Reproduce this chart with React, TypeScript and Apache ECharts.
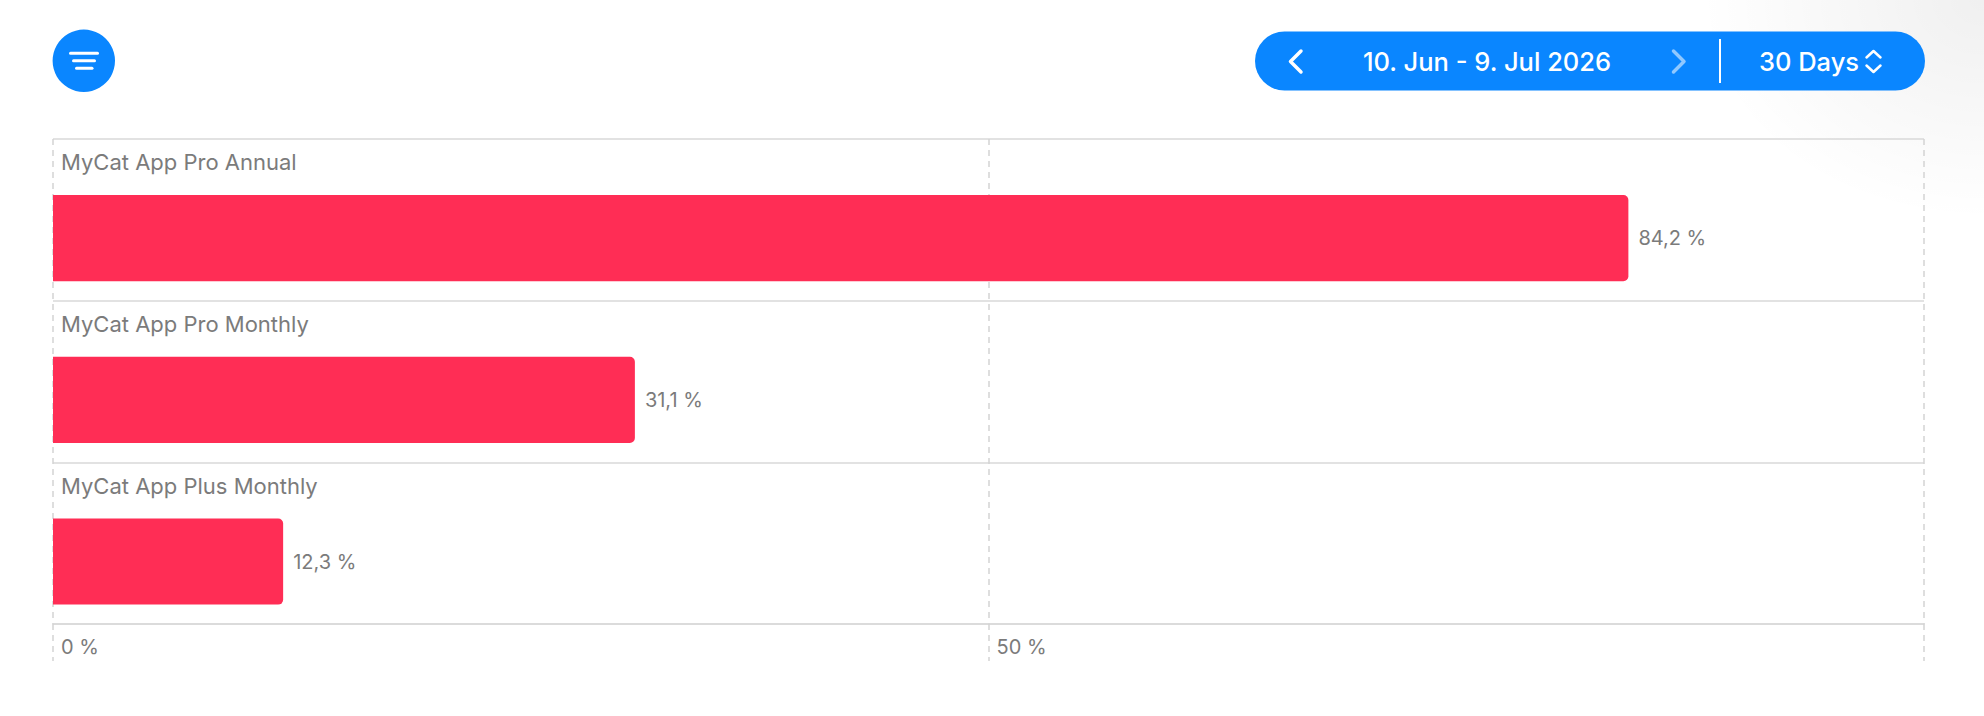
import React, { useEffect, useRef } from "react";
import * as echarts from "echarts";

const categories = ["MyCat App Pro Annual", "MyCat App Pro Monthly", "MyCat App Plus Monthly"];
const values = [84.2, 31.1, 12.3];
const xTicks = [0, 50, 100];
const dateRangeLabel = "10. Jun - 9. Jul 2026";
const periodLabel = "30 Days";

const FONT = "Inter, 'Noto Sans', sans-serif";
const GRAY_TEXT = "#7b7b7b";
const GRID_LINE = "#d9d9d9";
const BAR = "#FF2D55";
const BLUE = "#0A86FF";

function fmtPct(v: number): string {
  return v.toFixed(1).replace(".", ",") + " %";
}

export default function App() {
  const ref = useRef<HTMLDivElement>(null);

  useEffect(() => {
    document.body.style.margin = "0";
    if (!ref.current) return;
    const chart = echarts.init(ref.current, undefined, { renderer: "svg" });

    const option: any = {
      animation: false,
      backgroundColor: "#ffffff",
      grid: { left: 53, right: 60, top: 139, bottom: 92, containLabel: false },
      xAxis: {
        type: "value",
        min: xTicks[0],
        max: xTicks[xTicks.length - 1],
        interval: xTicks[1] - xTicks[0],
        axisLine: { show: true, lineStyle: { color: GRID_LINE, width: 1.5 } },
        axisTick: { show: true, length: 37, lineStyle: { color: "#d4d4d4", width: 1.5, type: [6, 5] } },
        splitLine: { show: true, lineStyle: { color: "#d4d4d4", width: 1.5, type: [6, 5] } },
        axisLabel: {
          show: true,
          color: GRAY_TEXT,
          fontFamily: FONT,
          fontSize: 20,
          align: "left",
          verticalAlign: "middle",
          margin: 23,
          padding: [0, 0, 0, 8],
          formatter: (v: number) => (v === xTicks[xTicks.length - 1] ? "" : v + " %"),
        },
      },
      yAxis: {
        type: "category",
        data: categories,
        inverse: true,
        boundaryGap: true,
        axisLine: { show: false },
        axisTick: { show: false },
        axisLabel: { show: false },
        splitLine: { show: true, lineStyle: { color: GRID_LINE, width: 1.5, type: "solid" } },
      },
      series: [
        {
          type: "custom",
          encode: { x: 0, y: 1 },
          data: values.map((v, i) => [v, i]),
          clip: false,
          renderItem: (params: any, api: any) => {
            const v = api.value(0);
            const idx = api.value(1);
            const end = api.coord([v, idx]);
            const start = api.coord([0, idx]);
            const band = api.size([0, 1])[1];
            const top = end[1] - band / 2;
            const barTop = top + band * 0.347;
            const barH = band * 0.533;
            return {
              type: "group",
              children: [
                {
                  type: "rect",
                  shape: { x: start[0], y: barTop, width: end[0] - start[0], height: barH, r: [0, 5, 5, 0] },
                  style: { fill: BAR },
                },
                {
                  type: "text",
                  x: end[0] + 10,
                  y: barTop + barH / 2,
                  style: {
                    text: fmtPct(v),
                    fill: GRAY_TEXT,
                    font: `400 20px ${FONT}`,
                    textAlign: "left",
                    textVerticalAlign: "middle",
                  },
                },
                {
                  type: "text",
                  x: start[0] + 8,
                  y: top + band * 0.145,
                  style: {
                    text: categories[idx],
                    fill: GRAY_TEXT,
                    font: `400 22px ${FONT}`,
                    textAlign: "left",
                    textVerticalAlign: "middle",
                  },
                },
              ],
            };
          },
        },
      ],
      graphic: [
        {
          type: "rect",
          z: -1,
          shape: { x: 1700, y: 0, width: 284, height: 220 },
          style: {
            fill: new echarts.graphic.RadialGradient(1, 0, 1, [
              { offset: 0, color: "rgba(0,0,0,0.06)" },
              { offset: 1, color: "rgba(0,0,0,0)" },
            ]),
          },
        },
        {
          type: "group",
          children: [
            { type: "circle", shape: { cx: 83.8, cy: 60.8, r: 31.2 }, style: { fill: BLUE } },
            { type: "line", shape: { x1: 70.5, y1: 53.3, x2: 97.5, y2: 53.3 }, style: { stroke: "#fff", lineWidth: 3, lineCap: "round" } },
            { type: "line", shape: { x1: 73.5, y1: 60.8, x2: 94.5, y2: 60.8 }, style: { stroke: "#fff", lineWidth: 3, lineCap: "round" } },
            { type: "line", shape: { x1: 76.5, y1: 68.3, x2: 92, y2: 68.3 }, style: { stroke: "#fff", lineWidth: 3, lineCap: "round" } },
          ],
        },
        {
          type: "group",
          children: [
            { type: "rect", shape: { x: 1255, y: 31.5, width: 670, height: 59, r: 29.5 }, style: { fill: BLUE } },
            {
              type: "polyline",
              shape: { points: [[1301, 51], [1290.5, 61.5], [1301, 72]] },
              style: { stroke: "#fff", lineWidth: 3.5, lineCap: "round", lineJoin: "round", fill: "none" },
            },
            {
              type: "text",
              x: 1487,
              y: 61.5,
              style: { text: dateRangeLabel, fill: "#fff", font: `500 25.5px ${FONT}`, textAlign: "center", textVerticalAlign: "middle" },
            },
            {
              type: "polyline",
              shape: { points: [[1673.5, 51], [1684, 61.5], [1673.5, 72]] },
              style: { stroke: "rgba(255,255,255,0.55)", lineWidth: 3.5, lineCap: "round", lineJoin: "round", fill: "none" },
            },
            { type: "line", shape: { x1: 1720, y1: 39, x2: 1720, y2: 83 }, style: { stroke: "#fff", lineWidth: 2 } },
            {
              type: "text",
              x: 1809,
              y: 61.5,
              style: { text: periodLabel, fill: "#fff", font: `500 25.5px ${FONT}`, textAlign: "center", textVerticalAlign: "middle" },
            },
            {
              type: "polyline",
              shape: { points: [[1866.5, 57.5], [1873.5, 51], [1880.5, 57.5]] },
              style: { stroke: "#fff", lineWidth: 2.5, lineCap: "round", lineJoin: "round", fill: "none" },
            },
            {
              type: "polyline",
              shape: { points: [[1866.5, 65.5], [1873.5, 72], [1880.5, 65.5]] },
              style: { stroke: "#fff", lineWidth: 2.5, lineCap: "round", lineJoin: "round", fill: "none" },
            },
          ],
        },
      ],
    };

    chart.setOption(option);
    return () => chart.dispose();
  }, []);

  return <div ref={ref} style={{ width: 1984, height: 716 }} />;
}
